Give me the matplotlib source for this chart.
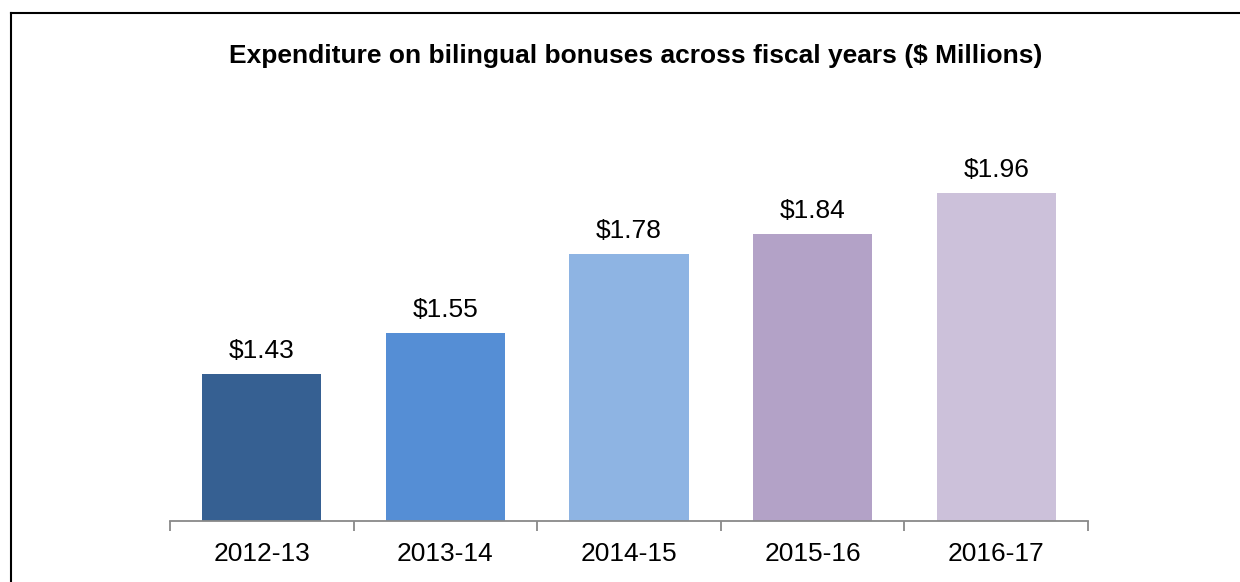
import numpy as np
import matplotlib.pyplot as plt
from matplotlib.lines import Line2D

years = ["2012-13", "2013-14", "2014-15", "2015-16", "2016-17"]
spend = [1.43, 1.55, 1.78, 1.84, 1.96]
labels = ["$1.43", "$1.55", "$1.78", "$1.84", "$1.96"]
colours = ["#366092", "#558ED5", "#8EB4E3", "#B3A2C7", "#CCC1DA"]

plt.rcParams['font.family'] = ['Liberation Sans', 'DejaVu Sans']

W, H = 1240, 582
fig = plt.figure(figsize=(W / 100, H / 100), dpi=100)
ax = fig.add_axes([170 / W, 1 - 521 / H, (1088 - 170) / W, (521 - 110.6) / H])

x = np.arange(len(years))
ax.bar(x, spend, width=0.65, color=colours, bottom=0)
ax.set_ylim(1.0, 2.2)
ax.set_xlim(-0.5, len(years) - 0.5)

for xi, v, lab in zip(x, spend, labels):
    ax.annotate(lab, (xi, v), xytext=(0, 8), textcoords='offset points',
                ha='center', va='bottom', fontsize=19)

for s in ['top', 'right', 'left']:
    ax.spines[s].set_visible(False)
ax.spines['bottom'].set_color('#898989')
ax.spines['bottom'].set_linewidth(1.3)
ax.set_yticks([])

ax.set_xticks(x)
ax.set_xticklabels(years, fontsize=19)
ax.tick_params(axis='x', which='major', length=0, pad=15)
ax.set_xticks(np.arange(-0.5, len(years), 1.0), minor=True)
ax.tick_params(axis='x', which='minor', length=7, width=1.3, color='#898989')

fig.text(636 / W, 1 - 56 / H,
         "Expenditure on bilingual bonuses across fiscal years ($ Millions)",
         ha='center', va='center', fontsize=19, fontweight='bold')

# outer frame (only left and top edges are visible)
fig.add_artist(Line2D([10.5 / W, 10.5 / W], [0, 1 - 13 / H], transform=fig.transFigure,
                      color='black', lw=1.5))
fig.add_artist(Line2D([10.5 / W, 1], [1 - 13 / H, 1 - 13 / H], transform=fig.transFigure,
                      color='black', lw=1.5))

fig.savefig('out.png', dpi=100)
